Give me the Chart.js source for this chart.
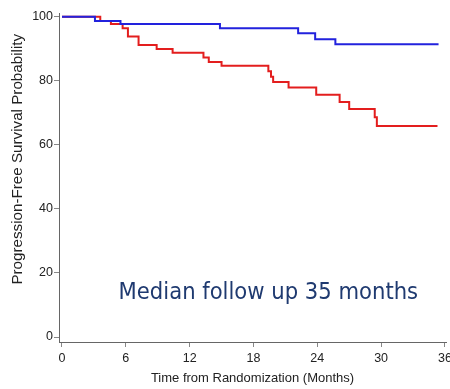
<!DOCTYPE html>
<html>
<head>
<meta charset="utf-8">
<script src="https://cdn.jsdelivr.net/npm/chart.js@4/dist/chart.umd.min.js"></script>
<style>
html,body{margin:0;padding:0;background:#fff;}
#wrap{width:450px;height:389px;position:relative;}
</style>
</head>
<body>
<div id="wrap"><canvas id="c" width="450" height="389"></canvas></div>
<script>
// Kaplan-Meier step data (months, % progression-free)
const blueTimes = [0, 3.1, 5.5, 14.85, 22.2, 23.8, 25.7, 35.4];
const blueSurv  = [100, 98.7, 97.7, 96.4, 94.8, 93.0, 91.4, 91.4];
const redTimes  = [0, 3.6, 4.6, 5.7, 6.2, 7.2, 8.9, 10.4, 13.3, 13.8, 15.0, 19.4, 19.65, 19.85, 21.3, 23.9, 26.1, 27.0, 29.4, 29.6, 35.3];
const redSurv   = [100, 98.7, 97.7, 96.4, 93.8, 91.2, 89.9, 88.75, 87.3, 85.9, 84.7, 83.0, 81.25, 79.6, 77.9, 75.6, 73.4, 71.2, 68.6, 65.9, 65.9];
const xTickValues = [0, 6, 12, 18, 24, 30, 36];
const yTickValues = [0, 20, 40, 60, 80, 100];
const xTitle = 'Time from Randomization (Months)';
const yTitle = 'Progression-Free Survival Probability';
const noteText = 'Median follow up 35 months';
const notePos = {x: 19.4, y: 11.8};
const yTitleCenter = 55.5; // value on y axis where the y title is centred

const toPts = (t, s) => t.map((v, i) => ({x: v, y: s[i]}));
const fam = '"Liberation Sans", Arial, sans-serif';
const tickFont = {family: fam, size: 12.5};

const textPlugin = {
  id: 'texts',
  afterDatasetsDraw(chart) {
    const ctx = chart.ctx;
    const xs = chart.scales.x, ys = chart.scales.y;
    ctx.save();
    ctx.font = '23.5px "DejaVu Sans Condensed", "DejaVu Sans", sans-serif';
    ctx.fillStyle = '#1f3a70';
    ctx.textAlign = 'center';
    ctx.textBaseline = 'alphabetic';
    ctx.fillText(noteText, xs.getPixelForValue(notePos.x), ys.getPixelForValue(notePos.y));
    ctx.restore();

    ctx.save();
    ctx.translate(18, ys.getPixelForValue(yTitleCenter));
    ctx.rotate(-Math.PI / 2);
    ctx.font = '15.2px ' + fam;
    ctx.fillStyle = '#222';
    ctx.textAlign = 'center';
    ctx.textBaseline = 'middle';
    ctx.fillText(yTitle, 0, 0);
    ctx.restore();
  }
};

new Chart(document.getElementById('c'), {
  type: 'line',
  data: {
    datasets: [
      {data: toPts(blueTimes, blueSurv), borderColor: '#2222dd', borderWidth: 2, stepped: 'before', pointRadius: 0, fill: false},
      {data: toPts(redTimes, redSurv), borderColor: '#e31e1e', borderWidth: 2, stepped: 'before', pointRadius: 0, fill: false}
    ]
  },
  options: {
    responsive: false,
    animation: false,
    layout: {padding: {top: 13, right: 4, left: 0, bottom: 0}},
    plugins: {legend: {display: false}, tooltip: {enabled: false}},
    scales: {
      x: {
        type: 'linear', min: -0.28, max: 36.1,
        afterBuildTicks: s => { s.ticks = xTickValues.map(v => ({value: v})); },
        afterFit: s => { s.height = 47; s.paddingLeft = 0; s.paddingRight = 0; },
        ticks: {color: '#222', font: tickFont, padding: 4, maxRotation: 0, autoSkip: false},
        grid: {drawOnChartArea: false, drawTicks: true, tickLength: 5, color: '#888'},
        border: {display: true, color: '#666', width: 1},
        title: {display: true, text: xTitle, color: '#222', font: {family: fam, size: 13}, padding: {top: 0, bottom: 3}}
      },
      y: {
        type: 'linear', min: -1.56, max: 101.16,
        afterBuildTicks: s => { s.ticks = yTickValues.map(v => ({value: v})); },
        afterFit: s => { s.width = 59; s.paddingTop = 0; s.paddingBottom = 0; },
        ticks: {color: '#222', font: tickFont, padding: 1, autoSkip: false},
        grid: {drawOnChartArea: false, drawTicks: true, tickLength: 5, color: '#888'},
        border: {display: true, color: '#666', width: 1},
        title: {display: false}
      }
    }
  },
  plugins: [textPlugin]
});
</script>
</body>
</html>
